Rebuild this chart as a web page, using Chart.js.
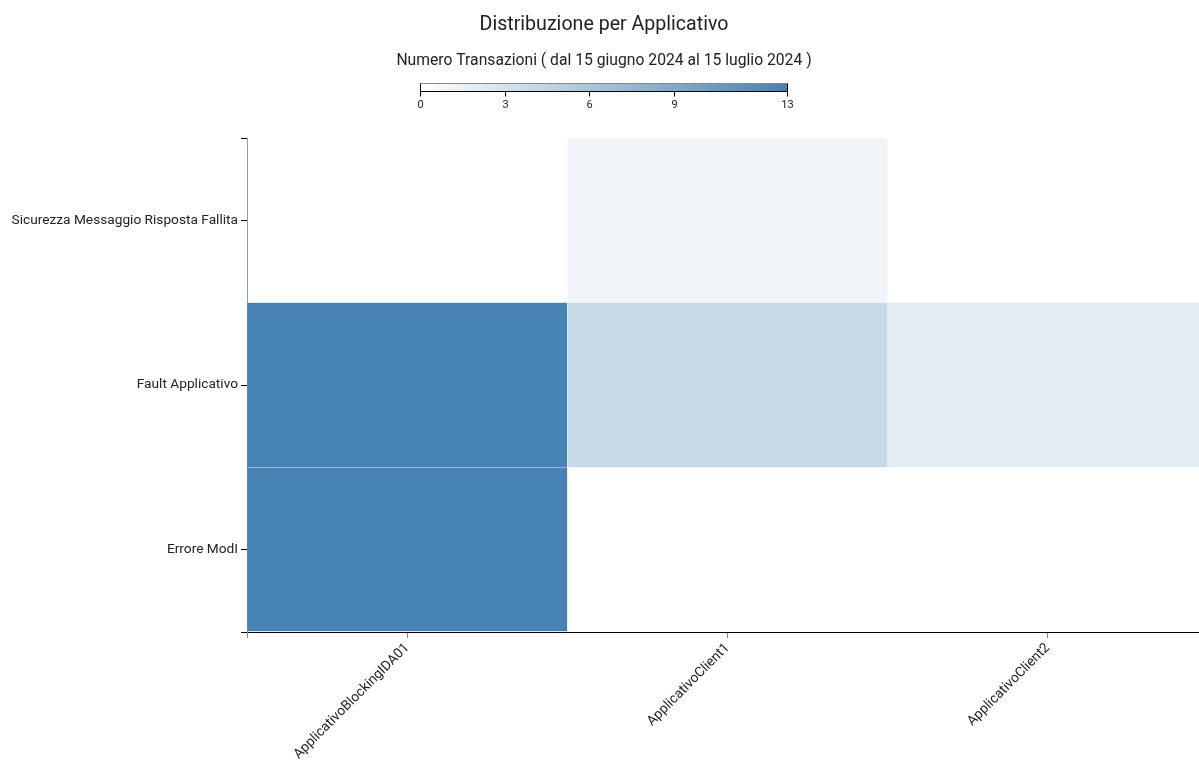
<!DOCTYPE html>
<html><head><meta charset="utf-8">
<script src="https://cdn.jsdelivr.net/npm/chart.js@4"></script>
<style>
html,body{margin:0;padding:0;overflow:hidden;background:#fff;width:1199px;height:766px}
#wrap{width:1208px;height:766px;position:relative}
</style>
</head><body><div id="wrap"><canvas id="c"></canvas></div>
<script>
// ---- data ----
const applicativi = ['ApplicativoBlockingIDA01', 'ApplicativoClient1', 'ApplicativoClient2'];
const errori = ['Errore ModI', 'Fault Applicativo', 'Sicurezza Messaggio Risposta Fallita']; // bottom -> top
const erroreModI = [13, 0, 0];
const faultApplicativo = [13, 4, 2];
const sicurezzaFallita = [0, 1, 0];
const legendTicks = [0, 3, 6, 9, 13];
const maxValue = 13;

const rows = [erroreModI, faultApplicativo, sicurezzaFallita];
const LOW = [255, 255, 255], HIGH = [70, 130, 180];
function colorFor(v) {
  if (!v) return 'rgba(0,0,0,0)';
  const t = v / maxValue;
  const c = LOW.map((l, i) => Math.round(l + (HIGH[i] - l) * t));
  return `rgb(${c[0]},${c[1]},${c[2]})`;
}

const FONT = 'Roboto, "Liberation Sans", sans-serif';
const TEXT = '#222';

const colorLegend = {
  id: 'colorLegend',
  afterDraw(chart) {
    const ctx = chart.ctx;
    const w = 367, h = 8;
    const x0 = Math.round(chart.width / 2 - w / 2) - 0.5;
    const y0 = 83.5;
    const g = ctx.createLinearGradient(x0, 0, x0 + w, 0);
    g.addColorStop(0, 'rgb(255,255,255)');
    g.addColorStop(1, 'rgb(70,130,180)');
    ctx.save();
    ctx.fillStyle = g;
    ctx.fillRect(x0, y0, w, h);
    ctx.strokeStyle = '#888';
    ctx.lineWidth = 1;
    ctx.strokeRect(x0, y0, w, h);
    ctx.strokeStyle = '#000';
    ctx.beginPath();
    ctx.moveTo(x0, y0 + h); ctx.lineTo(x0 + w, y0 + h);
    ctx.stroke();
    ctx.font = '11px ' + FONT;
    ctx.fillStyle = TEXT;
    ctx.textAlign = 'center';
    ctx.textBaseline = 'top';
    legendTicks.forEach(v => {
      const x = Math.round(x0 + v / maxValue * w - 0.5) + 0.5;
      ctx.beginPath();
      const top = (v === 0 || v === maxValue) ? y0 : y0 + h;
      ctx.moveTo(x, top); ctx.lineTo(x, y0 + h + 5);
      ctx.stroke();
      ctx.fillText(String(v), x, y0 + h + 8);
    });
    // outer tick of the x axis
    const xs = chart.scales.x;
    ctx.strokeStyle = '#888';
    ctx.beginPath();
    const lx = Math.round(xs.left) + 0.5;
    ctx.moveTo(lx, xs.top); ctx.lineTo(lx, xs.top + 6);
    ctx.stroke();
    ctx.restore();
  }
};

new Chart(document.getElementById('c'), {
  type: 'bar',
  data: {
    labels: applicativi,
    datasets: rows.map((vals, r) => ({
      label: errori[r],
      data: vals.map(() => [r, r + 1]),
      backgroundColor: vals.map(colorFor),
      borderColor: vals.map(v => v ? 'rgba(255,255,255,0.18)' : 'rgba(0,0,0,0)'),
      borderWidth: 0.5,
      borderSkipped: false,
      barPercentage: 1,
      categoryPercentage: 1,
      grouped: false
    }))
  },
  options: {
    responsive: true,
    maintainAspectRatio: false,
    animation: false,
    layout: { padding: 0 },
    plugins: {
      legend: { display: false },
      tooltip: { enabled: false },
      title: {
        display: true,
        text: 'Distribuzione per Applicativo',
        font: { family: FONT, size: 19.6, weight: 'normal' },
        color: TEXT,
        padding: { top: 13, bottom: 15.1 }
      },
      subtitle: {
        display: true,
        text: 'Numero Transazioni ( dal 15 giugno 2024 al 15 luglio 2024 )',
        font: { family: FONT, size: 15.7, weight: 'normal' },
        color: TEXT,
        padding: { top: 0, bottom: 67.56 }
      }
    },
    scales: {
      x: {
        type: 'category',
        offset: true,
        grid: { display: true, drawOnChartArea: false, drawTicks: true, tickLength: 6, tickColor: '#888', offset: false },
        border: { display: true, color: '#000', width: 1 },
        ticks: { font: { family: FONT, size: 13.7 }, color: TEXT, minRotation: 45, maxRotation: 45, padding: 2, autoSkip: false },
        afterFit: s => { s.height = 134; }
      },
      y: {
        type: 'linear',
        min: 0, max: 3,
        afterBuildTicks: s => { s.ticks = [0, 0.5, 1.5, 2.5, 3].map(value => ({ value })); },
        grid: { display: true, drawOnChartArea: false, drawTicks: true, tickLength: 6, tickColor: '#000' },
        border: { display: true, color: '#999', width: 1 },
        ticks: {
          font: { family: FONT, size: 13.7 }, color: TEXT, padding: 3, autoSkip: false,
          callback: v => { const i = v - 0.5; return Number.isInteger(i) ? errori[i] : ''; }
        },
        afterFit: s => { s.width = 247; }
      }
    }
  },
  plugins: [colorLegend]
});
</script>
</body></html>
